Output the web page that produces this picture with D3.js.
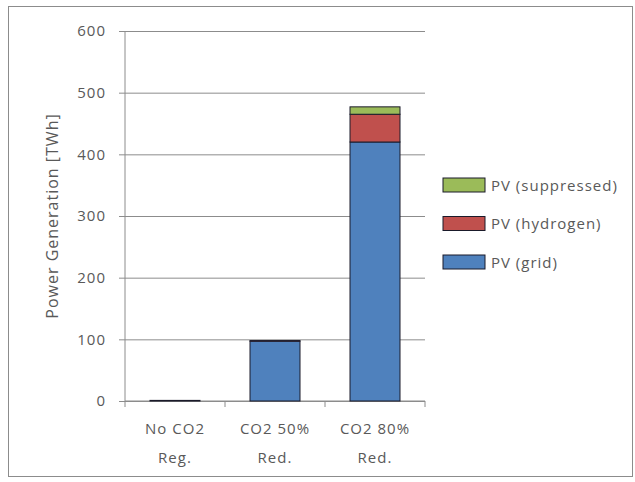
<!DOCTYPE html>
<html>
<head>
<meta charset="utf-8">
<script src="https://cdn.jsdelivr.net/npm/d3@7"></script>
<style>
  body { margin: 0; background: #fff; }
  svg text { font-family: "Open Sans", sans-serif; fill: #595959; letter-spacing: 1px; }
</style>
</head>
<body>
<svg width="635" height="482"></svg>
<script>
// ---- Dados
const categorias = ['No CO2|Reg.', 'CO2 50%|Red.', 'CO2 80%|Red.'];
const series = ['PV (grid)', 'PV (hydrogen)', 'PV (suppressed)'];
const pvGrid = [1, 97, 420];
const pvHydrogen = [0, 1, 45];
const pvSuppressed = [0, 0, 12];
const yTicks = [0, 100, 200, 300, 400, 500, 600];
const cores = ['#4f81bd', '#c0504d', '#9bbb59'];

const svg = d3.select('svg');
const margens = { left: 125, right: 210, top: 31, bottom: 81 };
const width = 635, height = 482;
const innerWidth = width - margens.left - margens.right;
const innerHeight = height - margens.top - margens.bottom;

// moldura
svg.append('rect')
    .attr('x', 8.5).attr('y', 6.5)
    .attr('width', 624).attr('height', 470)
    .attr('fill', 'none').attr('stroke', '#8c8c8c');

const tabela = categorias.map((c, i) => ({
    cat: c,
    'PV (grid)': pvGrid[i],
    'PV (hydrogen)': pvHydrogen[i],
    'PV (suppressed)': pvSuppressed[i]
}));
const pilha = d3.stack().keys(series)(tabela);

// ---- Escalas
const mapX = d3.scaleBand().domain(categorias).range([0, innerWidth])
    .paddingInner(0.5).paddingOuter(0.25);
const mapY = d3.scaleLinear().domain([0, 600]).range([innerHeight, 0]);

const g = svg.append('g').attr('transform', `translate(${margens.left}, ${margens.top})`);

// ---- Grade + eixo Y
const eixoY = d3.axisLeft(mapY).tickValues(yTicks).tickSize(-innerWidth).tickPadding(19);
g.append('g').call(eixoY)
    .call(s => s.select('.domain').remove())
    .call(s => s.selectAll('.tick line').attr('stroke', '#8c8c8c').attr('x1', -6))
    .call(s => s.selectAll('.tick text').style('font-size', '15px').style('font-family', null));

g.append('line')
    .attr('x1', 0).attr('x2', 0).attr('y1', 0).attr('y2', innerHeight)
    .attr('stroke', '#8c8c8c');

// ---- Eixo X
const eixoXg = g.append('g').attr('transform', `translate(0, ${innerHeight})`);
eixoXg.append('line').attr('x1', 0).attr('x2', innerWidth).attr('stroke', '#8c8c8c');
eixoXg.selectAll('.sep')
    .data(d3.range(categorias.length + 1))
    .enter().append('line')
    .attr('x1', i => i * mapX.step() - mapX.step() * 0.25 + mapX.step() * 0.25)
    .attr('x2', i => i * mapX.step())
    .attr('y1', 0).attr('y2', 6)
    .attr('stroke', '#8c8c8c');

eixoXg.selectAll('.rotulo')
    .data(categorias)
    .enter().append('text')
    .attr('text-anchor', 'middle')
    .style('font-size', '15px')
    .each(function(d) {
        const cx = mapX(d) + mapX.bandwidth() / 2;
        d3.select(this).selectAll('tspan').data(d.split('|')).enter().append('tspan')
            .attr('x', cx)
            .attr('y', (p, i) => 33 + i * 29)
            .text(p => p);
    });

// ---- Barras
g.selectAll('.serie')
    .data(pilha)
    .enter().append('g')
    .attr('fill', (d, i) => cores[i])
    .selectAll('rect')
    .data(d => d.filter(v => v[1] - v[0] > 0))
    .enter().append('rect')
    .attr('x', d => mapX(d.data.cat))
    .attr('y', d => mapY(d[1]))
    .attr('width', mapX.bandwidth())
    .attr('height', d => mapY(d[0]) - mapY(d[1]))
    .attr('stroke', '#1a1a2a')
    .attr('stroke-width', 1);

// ---- Rótulo do eixo Y
svg.append('text')
    .attr('transform', 'rotate(-90)')
    .attr('x', -216).attr('y', 58)
    .attr('text-anchor', 'middle')
    .style('font-size', '16px')
    .text('Power Generation [TWh]');

// ---- Legenda
const legenda = svg.append('g').attr('transform', 'translate(443, 178)');
const itens = series.slice().reverse();
const itemG = legenda.selectAll('.item').data(itens).enter().append('g')
    .attr('transform', (d, i) => `translate(0, ${i * 38.5})`);
itemG.append('rect')
    .attr('width', 42).attr('height', 14)
    .attr('fill', d => cores[series.indexOf(d)])
    .attr('stroke', '#1a1a2a');
itemG.append('text')
    .attr('x', 48).attr('y', 12.5)
    .style('font-size', '15px')
    .text(d => d);
</script>
</body>
</html>
